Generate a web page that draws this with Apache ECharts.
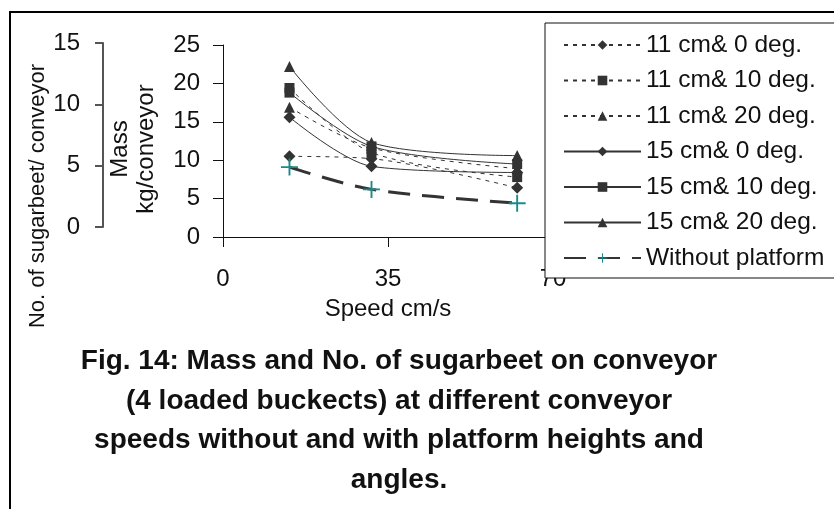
<!DOCTYPE html>
<html>
<head>
<meta charset="utf-8">
<script src="https://cdn.jsdelivr.net/npm/echarts@6/dist/echarts.min.js"></script>
<style>html,body{margin:0;padding:0;background:#fff}#c{width:834px;height:509px}</style>
</head>
<body>
<div id="c"></div>
<script>
var speeds = [14.1, 31.5, 62.4];
var seriesNames = ['11 cm& 0 deg.', '11 cm& 10 deg.', '11 cm& 20 deg.', '15 cm& 0 deg.', '15 cm& 10 deg.', '15 cm& 20 deg.', 'Without platform'];
var s11_0 = [10.5, 10.2, 6.4];
var s11_10 = [19.4, 11.0, 7.8];
var s11_20 = [16.9, 11.6, 8.9];
var s15_0 = [15.6, 9.2, 8.4];
var s15_10 = [18.8, 11.8, 9.5];
var s15_20 = [22.2, 12.3, 10.6];
var without = [9.1, 6.2, 4.4];
var massTicks = [0, 25, 5];
var countTicks = [0, 15, 5];
var speedTicks = [0, 70, 35];

var FONT = 'Liberation Sans';
var DARK = '#333333';
function pairs(v) { return v.map(function (y, i) { return [speeds[i], y]; }); }
var crossPath = 'path://M8,0H10V8H18V10H10V18H8V10H0V8H8Z';

function mk(name, vals, symbol, size, dashed) {
  return {
    name: name, type: 'line', data: pairs(vals), xAxisIndex: 0, yAxisIndex: 0,
    symbol: symbol, symbolSize: size, smooth: 0.3,
    lineStyle: { color: DARK, width: 1, type: dashed ? [4, 5] : 'solid' },
    itemStyle: { color: DARK }
  };
}

var series = [
  mk(seriesNames[0], s11_0, 'diamond', 12, true),
  mk(seriesNames[1], s11_10, 'rect', 10, true),
  mk(seriesNames[2], s11_20, 'triangle', 11, true),
  mk(seriesNames[3], s15_0, 'diamond', 12, false),
  mk(seriesNames[4], s15_10, 'rect', 10, false),
  mk(seriesNames[5], s15_20, 'triangle', 11, false),
  {
    name: seriesNames[6], type: 'line', data: pairs(without), xAxisIndex: 0, yAxisIndex: 0,
    symbol: crossPath, symbolSize: 17, smooth: 0.3,
    lineStyle: { color: DARK, width: 3, type: [22, 12] },
    itemStyle: { color: '#1a8a8a' }
  }
];

var chart = echarts.init(document.getElementById('c'), null, { renderer: 'canvas' });
chart.setOption({
  animation: false,
  backgroundColor: '#ffffff',
  textStyle: { fontFamily: FONT },
  graphic: [{
    type: 'rect', z: 0, silent: true,
    shape: { x: 10, y: 12, width: 900, height: 600 },
    style: { fill: 'none', stroke: '#000', lineWidth: 2 }
  }],
  title: {
    text: 'Fig. 14: Mass and No. of sugarbeet on conveyor\n(4 loaded buckects) at different conveyor\nspeeds without and with platform heights and\nangles.',
    left: 394, top: 337, textAlign: 'center',
    textStyle: { fontFamily: FONT, fontSize: 28, fontWeight: 'bold', color: '#111', lineHeight: 39.5 }
  },
  legend: {
    orient: 'vertical', left: 545, top: 23,
    padding: [9, 30, 7, 18],
    itemWidth: 77, itemHeight: 12, itemGap: 9.5,
    backgroundColor: '#fff', borderColor: '#111', borderWidth: 1,
    textStyle: { fontFamily: FONT, fontSize: 24.5, color: '#111', lineHeight: 26 },
    data: seriesNames
  },
  grid: [
    { left: 223, top: 45, width: 330, height: 192, containLabel: false },
    { left: 103, top: 43, width: 1, height: 184, containLabel: false }
  ],
  xAxis: [
    {
      type: 'value', gridIndex: 0, min: speedTicks[0], max: speedTicks[1], interval: speedTicks[2],
      name: 'Speed cm/s', nameLocation: 'middle', nameGap: 60,
      nameTextStyle: { fontFamily: FONT, fontSize: 24, color: '#111' },
      axisLine: { show: true, lineStyle: { color: '#111', width: 1 } },
      axisTick: { show: true, length: 10, inside: false, lineStyle: { color: '#111' } },
      axisLabel: { margin: 30, fontFamily: FONT, fontSize: 24, color: '#111' },
      splitLine: { show: false }
    },
    { type: 'value', gridIndex: 1, show: false, min: 0, max: 1 }
  ],
  yAxis: [
    {
      type: 'value', gridIndex: 0, min: massTicks[0], max: massTicks[1], interval: massTicks[2],
      name: 'Mass\nkg/conveyor', nameLocation: 'middle', nameRotate: 90, nameGap: 64,
      nameTextStyle: { fontFamily: FONT, fontSize: 24, color: '#111', lineHeight: 26, padding: [0, 16, 0, 0] },
      axisLine: { show: true, lineStyle: { color: '#111', width: 1 } },
      axisTick: { show: true, length: 10, inside: false, lineStyle: { color: '#111' } },
      axisLabel: { margin: 23, fontFamily: FONT, fontSize: 24, color: '#111' },
      splitLine: { show: false }
    },
    {
      type: 'value', gridIndex: 1, min: countTicks[0], max: countTicks[1], interval: countTicks[2],
      name: 'No. of sugarbeet/ conveyor', nameLocation: 'middle', nameRotate: 90, nameGap: 46,
      nameTextStyle: { fontFamily: FONT, fontSize: 22, color: '#111', padding: [0, 122, 0, 0] },
      axisLine: { show: true, lineStyle: { color: '#555', width: 2 } },
      axisTick: { show: true, length: 8, inside: false, lineStyle: { color: '#555', width: 2 } },
      axisLabel: { margin: 23, fontFamily: FONT, fontSize: 24, color: '#111' },
      splitLine: { show: false }
    }
  ],
  series: series
});
</script>
</body>
</html>
